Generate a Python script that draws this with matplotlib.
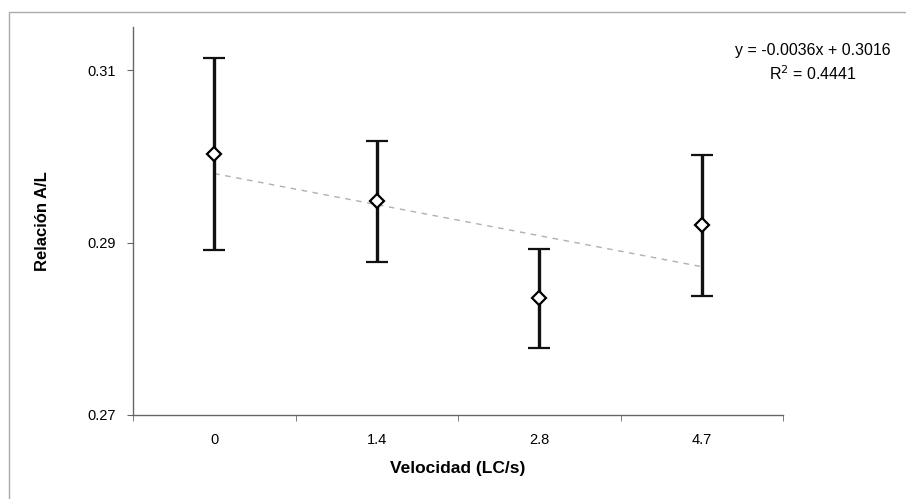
import matplotlib
matplotlib.use("Agg")
import matplotlib.pyplot as plt
import numpy as np
from matplotlib.patches import Rectangle

categories = ["0", "1.4", "2.8", "4.7"]
means = [0.3003, 0.2948, 0.2836, 0.2920]
upper = [0.3114, 0.3018, 0.2892, 0.3001]
lower = [0.2891, 0.2877, 0.2778, 0.2838]
slope = -0.0036
intercept = 0.3016
yticks = [0.27, 0.29, 0.31]
ytick_labels = ["0.27", "0.29", "0.31"]

plt.rcParams['font.family'] = ['Liberation Sans', 'DejaVu Sans']

fig = plt.figure(figsize=(9.06, 4.99), dpi=100)
ax = fig.add_axes([133/906, 1-415/499, (783-133)/906, (415-27)/499])

x = np.arange(len(categories))
means_a = np.array(means)
yerr = np.array([means_a - np.array(lower), np.array(upper) - means_a])

# trend line (Excel-style linear, x = 1..n)
xt = np.array([1, len(categories)])
yt = slope * xt + intercept
ax.plot(xt - 1, yt, color='#b0b0b0', lw=1.0, ls=(0, (4, 4)), zorder=1)

ax.errorbar(x, means, yerr=yerr, fmt='D', color='black', ecolor='#111111',
            elinewidth=2.4, capsize=8, capthick=2.4,
            markerfacecolor='white', markeredgecolor='black',
            markeredgewidth=1.6, markersize=7, zorder=3)

ax.set_xlim(-0.5, len(categories) - 0.5)
ax.set_ylim(0.27, 0.315)
ax.set_yticks(yticks)
ax.set_yticklabels(ytick_labels)
ax.set_xticks(x)
ax.set_xticklabels(categories)
ax.set_xticks(np.arange(-0.5, len(categories), 1.0), minor=True)
ax.tick_params(axis='x', which='major', length=0, pad=13, labelsize=10.5)
ax.tick_params(axis='x', which='minor', length=4, direction='out', color='#666666')
ax.tick_params(axis='y', which='major', length=4, direction='out', color='#666666',
               pad=8, labelsize=10.5)

for s in ['top', 'right']:
    ax.spines[s].set_visible(False)
for s in ['left', 'bottom']:
    ax.spines[s].set_color('#666666')
    ax.spines[s].set_linewidth(1.0)

ax.set_xlabel("Velocidad (LC/s)", fontsize=12.5, fontweight='bold', labelpad=10)
ax.set_ylabel("Relación A/L", fontsize=12, fontweight='bold', labelpad=27)

fig.text(813/906, 1-50/499, "y = -0.0036x + 0.3016", ha='center', va='center', fontsize=11.5)
fig.text(813/906, 1-74/499, r"R$^2$ = 0.4441", ha='center', va='center', fontsize=11.5)

# outer chart border (partially visible)
fig.patches.append(Rectangle((9/906, -0.2), 1.5, 1.2 - 12/499, transform=fig.transFigure,
                             fill=False, edgecolor='#aaaaaa', lw=1.0))

fig.savefig("out.png", dpi=100, facecolor='white')
